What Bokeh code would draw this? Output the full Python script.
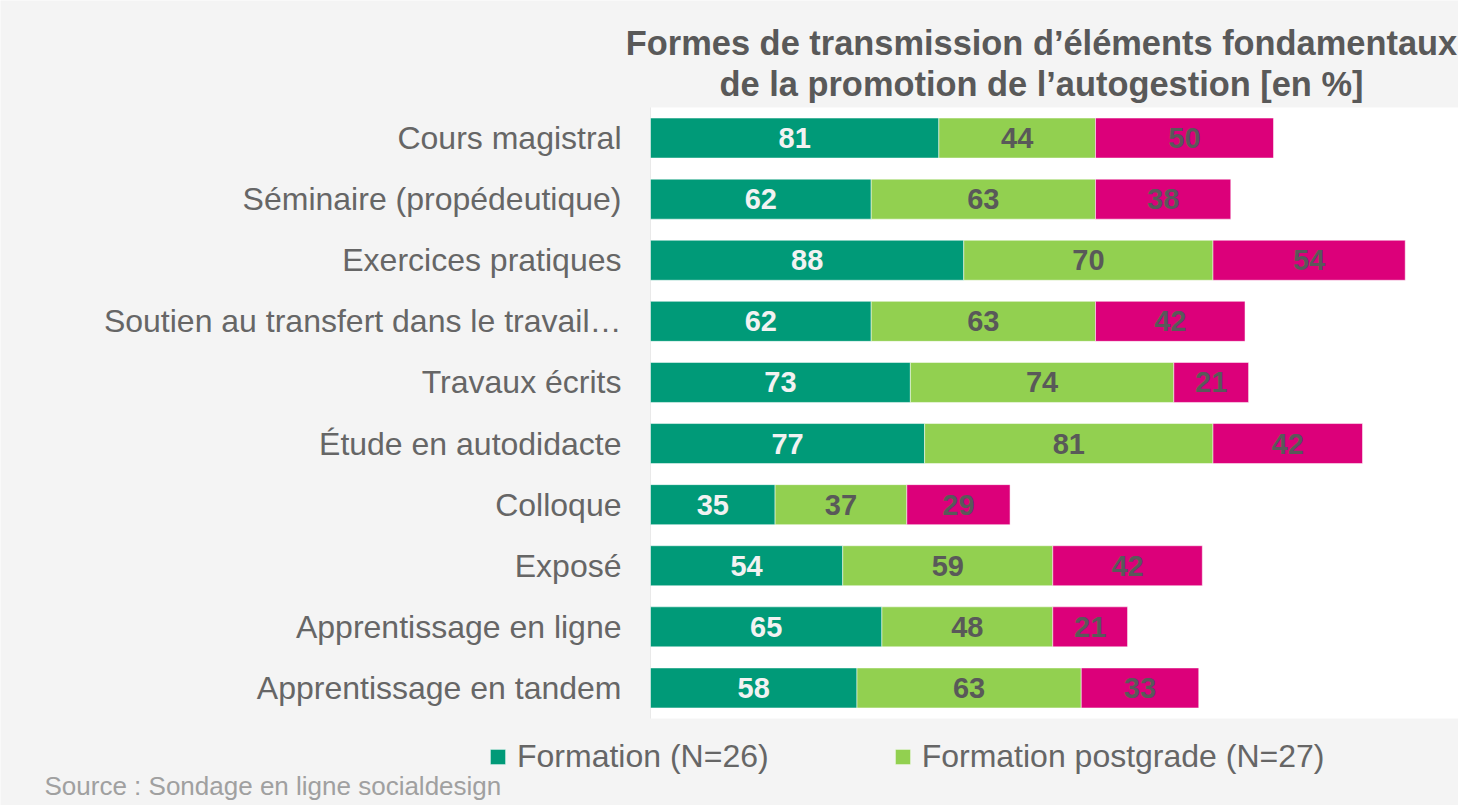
from bokeh.plotting import figure
from bokeh.models import ColumnDataSource, Range1d, Legend, LegendItem, Label, BoxAnnotation
from bokeh.core.properties import value
from bokeh.embed import file_html
from bokeh.resources import INLINE

categories = [
    "Cours magistral",
    "Séminaire (propédeutique)",
    "Exercices pratiques",
    "Soutien au transfert dans le travail…",
    "Travaux écrits",
    "Étude en autodidacte",
    "Colloque",
    "Exposé",
    "Apprentissage en ligne",
    "Apprentissage en tandem",
]
formation = [81, 62, 88, 62, 73, 77, 35, 54, 65, 58]
postgrade = [44, 63, 70, 63, 74, 81, 37, 59, 48, 63]
continue_ = [50, 38, 54, 42, 21, 42, 29, 42, 21, 33]

series_labels = ["Formation (N=26)", "Formation postgrade (N=27)"]
title_lines = ["Formes de transmission d’éléments fondamentaux",
               "de la promotion de l’autogestion [en %]"]
source_text = "Source : Sondage en ligne socialdesign"

C_GREEN = "#009A78"
C_LIME = "#92D050"
C_MAG = "#DC007A"
BG = "#F4F4F4"
FONT = "Liberation Sans"

W, H = 1458, 805
PLOT_LEFT, PLOT_TOP, ROW = 650, 107, 61.1   # px layout of the plot band
PX_PER_UNIT = 3.56

n = len(categories)
idx = list(range(n))
src = ColumnDataSource(dict(idx=idx, f=formation, p=postgrade, c=continue_))

x_start = -PLOT_LEFT / PX_PER_UNIT
x_end = (W - PLOT_LEFT) / PX_PER_UNIT
y_top = -0.5 - PLOT_TOP / ROW
y_bottom = y_top + H / ROW

p = figure(
    width=W, height=H,
    x_range=Range1d(x_start, x_end),
    y_range=Range1d(y_bottom, y_top),
    x_axis_type=None, y_axis_type=None,
    output_backend="svg", toolbar_location=None,
    min_border_left=0, min_border_right=0, min_border_top=0, min_border_bottom=0,
)
p.border_fill_color = BG
p.background_fill_color = BG
p.outline_line_color = None
p.grid.visible = False

# white plot band and its left axis line
p.add_layout(BoxAnnotation(left=0, right=x_end, top=-0.5, bottom=n - 0.5,
                           fill_color="white", fill_alpha=1, line_color=None, level="underlay"))
p.add_layout(BoxAnnotation(left=0, right=0, top=-0.5, bottom=n - 0.5,
                           fill_alpha=0, line_color="#D9D9D9", line_width=1, level="underlay"))

rs = p.hbar_stack(["f", "p", "c"], y="idx", height=0.655, color=[C_GREEN, C_LIME, C_MAG],
                  line_color="white", line_alpha=0.5, line_width=1, source=src)

# category labels
cat_src = ColumnDataSource(dict(idx=idx, cat=categories, zero=[0] * n))
p.text(x="zero", y="idx", text="cat", source=cat_src, x_offset=-29,
       text_align="right", text_baseline="middle",
       text_font=value(FONT), text_font_size="32px", text_color="#666666")

# value labels centered on each segment
mids_f, mids_p, mids_c = [], [], []
for a, b, c in zip(formation, postgrade, continue_):
    mids_f.append(a / 2)
    mids_p.append(a + b / 2)
    mids_c.append(a + b + c / 2)

lab_src = ColumnDataSource(dict(
    x=mids_f + mids_p + mids_c,
    y=idx * 3,
    t=[str(v) for v in formation + postgrade + continue_],
    col=["#F2F2F2"] * n + ["#595959"] * (2 * n),
))
p.text(x="x", y="y", text="t", source=lab_src, text_color="col",
       text_align="center", text_baseline="middle",
       text_font=value(FONT), text_font_style="bold", text_font_size="29px")

# title
for txt, base in zip(title_lines, [52, 93]):
    p.add_layout(Label(x=1041, y=H - base + 10, x_units="screen", y_units="screen", text=txt,
                       text_align="center", text_baseline="alphabetic",
                       text_font=FONT, text_font_style="bold", text_font_size="34.4px",
                       text_color="#595959"))

# legend
legend = Legend(
    items=[LegendItem(label=series_labels[0], renderers=[rs[0]]),
           LegendItem(label=series_labels[1], renderers=[rs[1]])],
    orientation="horizontal", location=(488, 30),
    glyph_width=19, glyph_height=19, label_standoff=10, spacing=124,
    padding=0, margin=0, border_line_color=None, background_fill_alpha=0,
    label_text_font=FONT, label_text_font_size="32px", label_text_color="#666666",
)
p.add_layout(legend, "center")

# source
p.add_layout(Label(x=44, y=H - 795 + 10, x_units="screen", y_units="screen", text=source_text,
                   text_align="left", text_baseline="alphabetic",
                   text_font=FONT, text_font_size="26px", text_color="#A0A0A0"))

open("out.html", "w").write(file_html(p, INLINE))
